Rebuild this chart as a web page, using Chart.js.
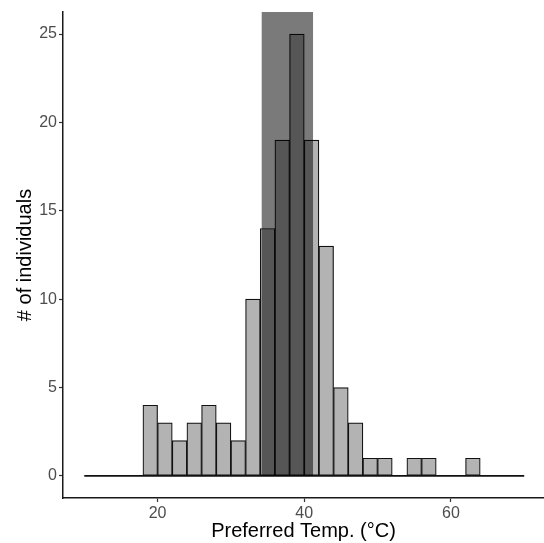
<!DOCTYPE html>
<html>
<head>
<meta charset="utf-8">
<script src="https://cdn.jsdelivr.net/npm/chart.js@4"></script>
<style>
  html, body { margin: 0; padding: 0; background: #ffffff; }
  #wrap { width: 544px; height: 543px; }
</style>
</head>
<body>
<div id="wrap"><canvas id="c" width="544" height="543"></canvas></div>
<script>
// Histogram of preferred temperatures, 2 °C bins
const binWidth = 2;
const binStarts = [10, 12, 14, 16, 18, 20, 22, 24, 26, 28, 30, 32, 34, 36, 38,
                   40, 42, 44, 46, 48, 50, 52, 54, 56, 58, 60, 62, 64, 66, 68];
const counts    = [0, 0, 0, 0, 4, 3, 2, 3, 4, 3, 2, 10, 14, 19, 25,
                   19, 13, 5, 3, 1, 1, 0, 1, 1, 0, 0, 1, 0, 0, 0];

// Highlighted preferred range (shaded band)
const bandLow = 34.2;
const bandHigh = 41.2;

const xTicks = [20, 40, 60];
const yTicks = [0, 5, 10, 15, 20, 25];

const barPoints = binStarts.map((s, i) => ({ x: s + binWidth / 2, y: counts[i] }));
const baseline = [
  { x: binStarts[0], y: 0 },
  { x: binStarts[binStarts.length - 1] + binWidth, y: 0 }
];

const bandPlugin = {
  id: 'band',
  afterDatasetsDraw(chart) {
    const { ctx, chartArea, scales } = chart;
    const x0 = scales.x.getPixelForValue(bandLow);
    const x1 = scales.x.getPixelForValue(bandHigh);
    const yBottom = scales.y.getPixelForValue(0);
    ctx.save();
    ctx.fillStyle = 'rgba(0,0,0,0.52)';
    ctx.fillRect(x0, chartArea.top, x1 - x0, yBottom - chartArea.top);
    ctx.restore();
  }
};

const font = "'Liberation Sans', Arial, sans-serif";

new Chart(document.getElementById('c'), {
  type: 'bar',
  data: {
    datasets: [
      {
        type: 'line',
        data: baseline,
        borderColor: '#111111',
        borderWidth: 1.6,
        pointRadius: 0,
        order: 0
      },
      {
        type: 'bar',
        data: barPoints,
        backgroundColor: '#b3b3b3',
        borderColor: '#111111',
        borderWidth: 1.2,
        borderSkipped: false,
        barPercentage: 1,
        categoryPercentage: 1,
        order: 1
      }
    ]
  },
  options: {
    responsive: false,
    animation: false,
    layout: { padding: { top: 12, right: 0, bottom: 0, left: 0 } },
    plugins: {
      legend: { display: false },
      tooltip: { enabled: false }
    },
    scales: {
      x: {
        type: 'linear',
        min: 7.1,
        max: 72.7,
        offset: false,
        afterBuildTicks(scale) { scale.ticks = xTicks.map(v => ({ value: v })); },
        afterFit(scale) { scale.height = 45; },
        grid: {
          drawOnChartArea: false,
          drawTicks: true,
          tickLength: 4,
          tickColor: '#333333',
          tickWidth: 1.2,
          offset: false
        },
        border: { display: true, color: '#1a1a1a', width: 1.5 },
        ticks: {
          color: '#4d4d4d',
          font: { family: font, size: 16 },
          padding: 2,
          maxRotation: 0
        },
        title: {
          display: true,
          text: 'Preferred Temp. (°C)',
          color: '#000000',
          font: { family: font, size: 20 },
          padding: { top: 0, bottom: 0 }
        }
      },
      y: {
        min: -1.25,
        max: 26.25,
        afterBuildTicks(scale) { scale.ticks = yTicks.map(v => ({ value: v })); },
        afterFit(scale) { scale.width = 63; },
        grid: {
          drawOnChartArea: false,
          drawTicks: true,
          tickLength: 4,
          tickColor: '#333333',
          tickWidth: 1.2
        },
        border: { display: true, color: '#1a1a1a', width: 1.5 },
        ticks: {
          color: '#4d4d4d',
          font: { family: font, size: 16 },
          padding: 2
        },
        title: {
          display: true,
          text: '# of individuals',
          color: '#000000',
          font: { family: font, size: 20 },
          padding: { top: 13, bottom: 0 }
        }
      }
    }
  },
  plugins: [bandPlugin]
});
</script>
</body>
</html>
